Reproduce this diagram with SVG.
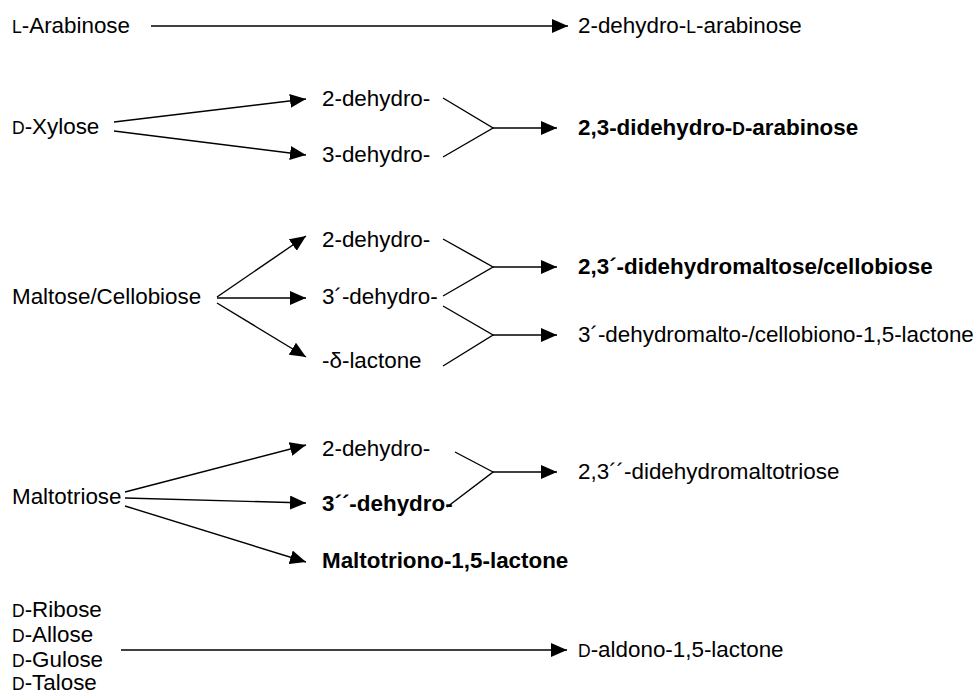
<svg xmlns="http://www.w3.org/2000/svg" width="977" height="695" viewBox="0 0 977 695">
<style>
text{font-family:"Liberation Sans",Arial,sans-serif;font-size:22.4px;fill:#000}
.b{font-weight:bold}
.sc{font-size:17.5px}
.c line,.c polyline{stroke:#000;stroke-width:1.4;fill:none}
.a{marker-end:url(#ah)}
</style>
<defs>
<marker id="ah" markerUnits="userSpaceOnUse" markerWidth="18" markerHeight="14" refX="16" refY="7" orient="auto"><path d="M0,0 L16,7 L0,14 Z" fill="#000"/></marker>
</defs>
<g class="c" id="connectors">
<line class="a" x1="151" y1="26" x2="568" y2="26"/>
<line class="a" x1="114" y1="122" x2="306" y2="99"/>
<line class="a" x1="114" y1="131" x2="306" y2="155"/>
<polyline points="443,98 493,128 443,157"/>
<line class="a" x1="493" y1="128" x2="557" y2="128"/>
<line class="a" x1="217" y1="297" x2="306" y2="236"/>
<line class="a" x1="217" y1="298" x2="306" y2="298"/>
<line class="a" x1="217" y1="303" x2="306" y2="357"/>
<polyline points="443,239 493,267 443,296"/>
<line class="a" x1="493" y1="267" x2="557" y2="267"/>
<polyline points="443,306 493,335 443,366"/>
<line class="a" x1="493" y1="335" x2="557" y2="335"/>
<line class="a" x1="125" y1="492" x2="306" y2="445"/>
<line class="a" x1="125" y1="498" x2="306" y2="503"/>
<line class="a" x1="125" y1="506" x2="306" y2="562"/>
<polyline points="455,452 493,472 447,507"/>
<line class="a" x1="493" y1="472" x2="557" y2="472"/>
<line class="a" x1="121" y1="650" x2="567" y2="650"/>
</g>
<g id="n-arabinose"><text x="12" y="33"><tspan class="sc">L</tspan>-Arabinose</text></g>
<g id="n-dehydroarabinose"><text x="578" y="33">2-dehydro-<tspan class="sc">L</tspan>-arabinose</text></g>
<g id="n-xylose"><text x="12" y="134"><tspan class="sc">D</tspan>-Xylose</text></g>
<g id="n-x2"><text x="322" y="106">2-dehydro-</text></g>
<g id="n-x3"><text x="322" y="162">3-dehydro-</text></g>
<g id="n-xprod"><text class="b" x="578" y="135">2,3-didehydro-<tspan class="sc">D</tspan>-arabinose</text></g>
<g id="n-maltose"><text x="12" y="304">Maltose/Cellobiose</text></g>
<g id="n-m2"><text x="322" y="247">2-dehydro-</text></g>
<g id="n-m3"><text x="322" y="304">3´-dehydro-</text></g>
<g id="n-mlac"><text x="322" y="368">-δ-lactone</text></g>
<g id="n-mprod1"><text class="b" x="578" y="274">2,3´-didehydromaltose/cellobiose</text></g>
<g id="n-mprod2"><text x="578" y="342">3´-dehydromalto-/cellobiono-1,5-lactone</text></g>
<g id="n-maltotriose"><text x="12" y="504">Maltotriose</text></g>
<g id="n-t2"><text x="322" y="456">2-dehydro-</text></g>
<g id="n-t3"><text class="b" x="322" y="511">3´´-dehydro-</text></g>
<g id="n-tlac"><text class="b" x="322" y="568">Maltotriono-1,5-lactone</text></g>
<g id="n-tprod"><text x="578" y="479">2,3´´-didehydromaltotriose</text></g>
<g id="n-aldoses"><text x="12" y="617"><tspan class="sc">D</tspan>-Ribose</text><text x="12" y="642"><tspan class="sc">D</tspan>-Allose</text><text x="12" y="667"><tspan class="sc">D</tspan>-Gulose</text><text x="12" y="690"><tspan class="sc">D</tspan>-Talose</text></g>
<g id="n-aldono"><text x="578" y="657"><tspan class="sc">D</tspan>-aldono-1,5-lactone</text></g>
</svg>
